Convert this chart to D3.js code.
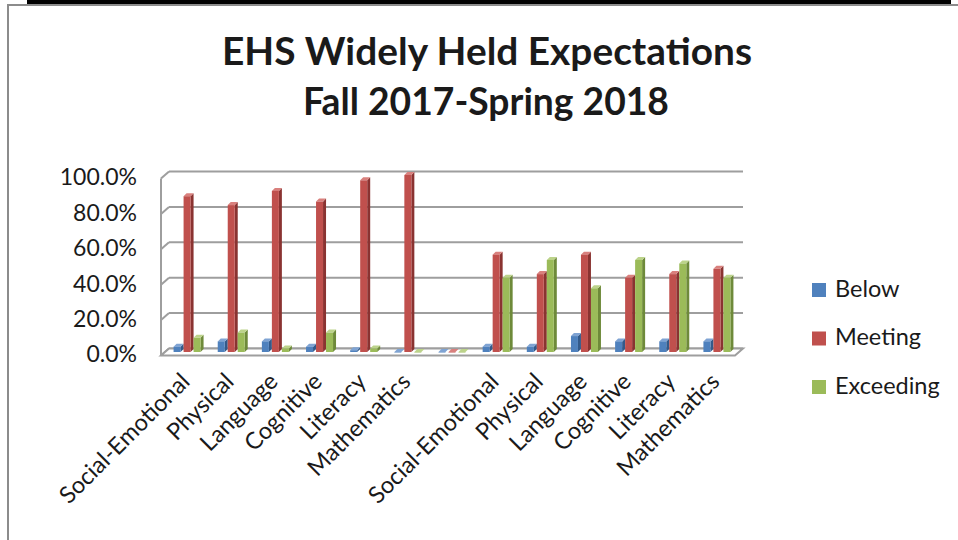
<!DOCTYPE html>
<html>
<head>
<meta charset="utf-8">
<script src="https://cdn.jsdelivr.net/npm/d3@7"></script>
<style>
  html, body { margin: 0; padding: 0; background: #fff; }
  svg { display: block; }
  text { font-family: "Lato", "Open Sans", sans-serif; fill: #1a1a1a; }
</style>
</head>
<body>
<svg id="chart" width="958" height="540"></svg>
<script>
// ---------- data ----------
const categories = ["Social-Emotional","Physical","Language","Cognitive","Literacy","Mathematics","",
                    "Social-Emotional","Physical","Language","Cognitive","Literacy","Mathematics"];
const seriesNames = ["Below","Meeting","Exceeding"];
const below     = [3, 6, 6, 3, 1, 0, 0,  3, 3, 9, 6, 6, 6];
const meeting   = [88, 83, 91, 85, 97, 100, 0,  55, 44, 55, 42, 44, 47];
const exceeding = [8, 11, 2, 11, 2, 0, 0,  42, 52, 36, 52, 50, 42];
const yTicks = [0, 20, 40, 60, 80, 100];
const titleLines = ["EHS Widely Held Expectations", "Fall 2017-Spring 2018"];

const seriesValues = [below, meeting, exceeding];
const colors = ["#4F81BD", "#C0504D", "#9BBB59"];
const sideColors = ["#335A8A", "#8A3331", "#6E8A3A"];
const topColors = ["#7FA3D3", "#D9807D", "#BCD38A"];

const svg = d3.select("#chart");

// ---------- frame ----------
svg.append("rect").attr("x", 27).attr("y", 0).attr("width", 924).attr("height", 4).attr("fill", "#000");
svg.append("rect").attr("x", 7).attr("y", 4).attr("width", 951).attr("height", 2).attr("fill", "#8c8c8c");
svg.append("rect").attr("x", 7).attr("y", 4).attr("width", 2).attr("height", 536).attr("fill", "#8c8c8c");

// ---------- title ----------
const titleTargets = [{cx: 487, y: 65, w: 530}, {cx: 486, y: 115, w: 366}];
titleLines.forEach((t, i) => {
  const el = svg.append("text")
    .attr("x", titleTargets[i].cx).attr("y", titleTargets[i].y)
    .attr("text-anchor", "middle")
    .style("font-weight", "bold").style("font-size", "34px")
    .text(t);
  const w = el.node().getComputedTextLength();
  el.style("font-size", (34 * titleTargets[i].w / w).toFixed(2) + "px");
});

// ---------- geometry ----------
const fx0 = 161, fx1 = 735;         // front floor edge
const dX = 8, dY = -7;              // depth offset (front -> back)
const yBack = d3.scaleLinear().domain([0, 100]).range([348.5, 171.5]);
const yBar = d3.scaleLinear().domain([0, 100]).range([352, 175]);

const x = d3.scaleBand().domain(d3.range(categories.length)).range([fx0 + 4, fx1 + 4]).padding(0);
const xs = d3.scaleBand().domain(d3.range(3)).range([-15, 15]).padding(0);

const grid = svg.append("g");
const gridColor = "#9e9e9e";
yTicks.forEach(v => {
  const yb = yBack(v);
  grid.append("line").attr("x1", fx0 + dX).attr("x2", fx1 + dX).attr("y1", yb).attr("y2", yb)
    .attr("stroke", gridColor).attr("stroke-width", 2);
  grid.append("line").attr("x1", fx0 + dX).attr("x2", fx0).attr("y1", yb).attr("y2", yb - dY)
    .attr("stroke", gridColor).attr("stroke-width", 2);
});
grid.append("line").attr("x1", fx0).attr("x2", fx0).attr("y1", yBack(100) - dY).attr("y2", yBack(0) - dY)
  .attr("stroke", gridColor).attr("stroke-width", 2);
const fb = yBack(0), ff = yBack(0) - dY;
grid.append("path")
  .attr("d", `M${fx0},${ff} L${fx0 + dX},${fb} L${fx1 + dX},${fb} L${fx1},${ff} Z`)
  .attr("fill", "#fff").attr("stroke", gridColor).attr("stroke-width", 2);

// ---------- y tick labels ----------
svg.append("g").selectAll("text").data(yTicks).join("text")
  .attr("x", 137).attr("y", d => yBack(d) - dY + 1)
  .attr("text-anchor", "end").attr("dominant-baseline", "middle")
  .style("font-size", "23px")
  .text(d => d3.format(".1f")(d) + "%");

// ---------- bars ----------
const bw = 7, bd = 3;
const barsG = svg.append("g");
categories.forEach((c, ci) => {
  seriesValues.forEach((vals, si) => {
    const v = vals[ci];
    const xl = x(ci) + x.bandwidth() / 2 + xs(si) + 1.5;
    const yt = yBar(v), yb = yBar(0);
    const g = barsG.append("g");
    g.append("path")
      .attr("d", `M${xl + bw},${yb} L${xl + bw},${yt} L${xl + bw + bd},${yt - bd} L${xl + bw + bd},${yb - bd} Z`)
      .attr("fill", sideColors[si]);
    g.append("path")
      .attr("d", `M${xl},${yt} L${xl + bd},${yt - bd} L${xl + bw + bd},${yt - bd} L${xl + bw},${yt} Z`)
      .attr("fill", topColors[si]);
    g.append("rect").attr("x", xl).attr("y", yt).attr("width", bw).attr("height", Math.max(0.5, yb - yt))
      .attr("fill", colors[si]);
  });
});

// ---------- category labels ----------
svg.append("g").selectAll("text").data(categories).join("text")
  .attr("transform", (d, i) => `translate(${x(i) + x.bandwidth() / 2 + 4},${383}) rotate(-45)`)
  .attr("text-anchor", "end")
  .style("font-size", "23.5px")
  .text(d => d);

// ---------- legend ----------
const leg = svg.append("g");
seriesNames.forEach((n, i) => {
  const cy = 290 + i * 48.5;
  leg.append("rect").attr("x", 812).attr("y", cy - 7).attr("width", 14).attr("height", 14).attr("fill", colors[i]);
  leg.append("text").attr("x", 835).attr("y", cy + 1).attr("dominant-baseline", "middle")
    .style("font-size", "23.5px").text(n);
});
</script>
</body>
</html>
